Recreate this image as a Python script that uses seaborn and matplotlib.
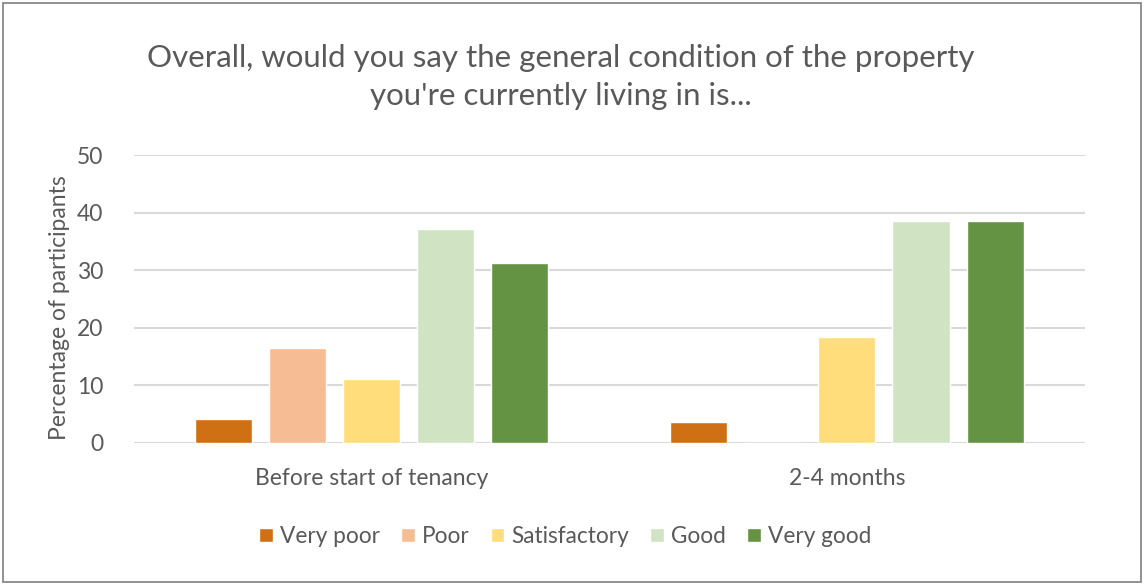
import numpy as np
import pandas as pd
import matplotlib
matplotlib.use("Agg")
import matplotlib.pyplot as plt
from matplotlib.patches import Rectangle
import seaborn as sns

# --- data ---
periods = ["Before start of tenancy", "2-4 months"]
ratings = ["Very poor", "Poor", "Satisfactory", "Good", "Very good"]
before_vals = [4.2, 16.5, 11.1, 37.1, 31.2]
after_vals = [3.7, 0.0, 18.4, 38.6, 38.6]
colors = ["#d07014", "#f6bd95", "#ffdd7a", "#d0e4c3", "#639343"]

rows = []
for r, v in zip(ratings, before_vals):
    rows.append({"period": periods[0], "rating": r, "pct": v})
for r, v in zip(ratings, after_vals):
    rows.append({"period": periods[1], "rating": r, "pct": v})
df = pd.DataFrame(rows)

sns.set_theme(style="white")
plt.rcParams["font.family"] = ["Lato", "DejaVu Sans"]
text_col = "#595959"

fig = plt.figure(figsize=(11.44, 5.85), dpi=100)
ax = fig.add_axes([0.117, 0.243, 0.831, 0.492])

sns.barplot(data=df, x="period", y="pct", hue="rating", hue_order=ratings,
            palette=colors, order=periods, width=0.78, gap=0.23,
            saturation=1, ax=ax, legend=True)

ax.set_ylim(0, 50)
ax.set_yticks(range(0, 51, 10))
ax.yaxis.grid(True, color="#d9d9d9", linewidth=1.5)
ax.set_axisbelow(True)
for s in ax.spines.values():
    s.set_visible(False)
ax.tick_params(axis="both", length=0, labelsize=16.5, colors=text_col)
ax.tick_params(axis="x", pad=18)
ax.tick_params(axis="y", pad=22)
ax.set_xlabel("")
ax.set_ylabel("Percentage of participants", fontsize=16.5, color=text_col, labelpad=4)
ax.yaxis.set_label_coords(-0.067, 0.47)

fig.suptitle("Overall, would you say the general condition of the property\nyou're currently living in is...",
             x=0.49, y=0.925, fontsize=22.5, color=text_col, linespacing=1.45)

ax.legend(loc="center", bbox_to_anchor=(0.494, 0.083), bbox_transform=fig.transFigure,
          ncol=5, frameon=False, fontsize=16.3, labelcolor=text_col,
          handlelength=0.6, handleheight=0.6, handletextpad=0.3, columnspacing=0.95)

fig.patches.append(Rectangle((0.003, 0.005), 0.994, 0.99, transform=fig.transFigure,
                             fill=False, edgecolor="#7f7f7f", linewidth=1.2))

fig.savefig("out.png", dpi=100, facecolor="white")
